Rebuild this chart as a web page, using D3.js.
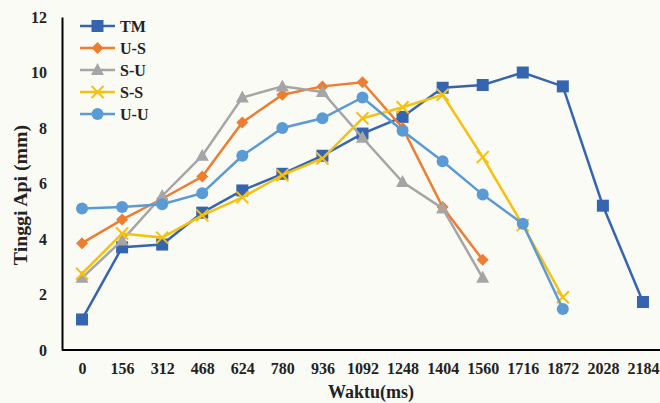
<!DOCTYPE html>
<html><head><meta charset="utf-8">
<script src="https://cdn.jsdelivr.net/npm/d3@7"></script>
<style>body{margin:0;background:#fbfbf6}svg{display:block}</style>
</head><body><svg id="c" width="660" height="403"></svg>
<script>
const categories = ["0","156","312","468","624","780","936","1092","1248","1404","1560","1716","1872","2028","2184"];
const yTicks = [0,2,4,6,8,10,12];
const seriesNames = ["TM","U-S","S-U","S-S","U-U"];
const TM  = [1.1,3.7,3.8,4.95,5.75,6.35,7.0,7.8,8.4,9.45,9.55,10.0,9.5,5.2,1.73];
const US  = [3.85,4.7,5.45,6.25,8.2,9.2,9.5,9.65,8.0,5.15,3.25];
const SU  = [2.6,3.95,5.55,7.0,9.1,9.5,9.3,7.65,6.05,5.1,2.6];
const SS  = [2.75,4.2,4.05,4.85,5.5,6.3,6.9,8.35,8.75,9.2,6.95,4.5,1.9];
const UU  = [5.1,5.15,5.25,5.65,7.0,8.0,8.35,9.1,7.9,6.8,5.6,4.55,1.48];
const seriesValues = [TM,US,SU,SS,UU];
const colors = ["#3565b0","#ed7d31","#a5a5a5","#f5c010","#5b9bd5"];
const markers = ["square","diamond","triangle","cross","circle"];

const svg = d3.select("#c");
const x = d3.scalePoint().domain(categories).range([62,663]).padding(0.5);
const y = d3.scaleLinear().domain([0,12]).range([350,17]);
const font = "'Liberation Serif','Times New Roman',serif";

// axes
const xAxis = svg.append("g").attr("transform","translate(0,350)")
  .call(d3.axisBottom(x).tickSize(0).tickPadding(13));
xAxis.select(".domain").attr("stroke","#000").attr("stroke-width",2).attr("d","M62,0H670");
xAxis.selectAll("text").attr("font-family",font).attr("font-weight","bold").attr("font-size",16).attr("fill","#222");

const yAxis = svg.append("g").attr("transform","translate(62,0)")
  .call(d3.axisLeft(y).tickValues(yTicks).tickSize(0).tickPadding(15));
yAxis.select(".domain").attr("stroke","#000").attr("stroke-width",2);
yAxis.selectAll("text").attr("font-family",font).attr("font-weight","bold").attr("font-size",16).attr("fill","#222");

svg.append("text").attr("x",371).attr("y",398).attr("text-anchor","middle")
  .attr("font-family",font).attr("font-weight","bold").attr("font-size",18).attr("fill","#222").text("Waktu(ms)");
svg.append("text").attr("transform","translate(27,195) rotate(-90) scale(1.1,1)").attr("text-anchor","middle")
  .attr("font-family",font).attr("font-weight","bold").attr("font-size",18).attr("fill","#222").text("Tinggi Api (mm)");

function drawMarker(g, type, cx, cy, color){
  if(type==="square") g.append("rect").attr("x",cx-6).attr("y",cy-6).attr("width",12).attr("height",12).attr("fill",color);
  else if(type==="diamond") g.append("path").attr("d",`M${cx},${cy-6}L${cx+6},${cy}L${cx},${cy+6}L${cx-6},${cy}Z`).attr("fill",color);
  else if(type==="triangle") g.append("path").attr("d",`M${cx},${cy-7}L${cx+6.5},${cy+5}L${cx-6.5},${cy+5}Z`).attr("fill",color);
  else if(type==="circle") g.append("circle").attr("cx",cx).attr("cy",cy).attr("r",6).attr("fill",color);
  else if(type==="cross") g.append("path").attr("d",`M${cx-6},${cy-6}L${cx+6},${cy+6}M${cx+6},${cy-6}L${cx-6},${cy+6}`).attr("stroke",color).attr("stroke-width",2);
}

const line = d3.line().x((d,i)=>x(categories[i])).y(d=>y(d));
seriesValues.forEach((vals,si)=>{
  const g = svg.append("g");
  g.append("path").datum(vals).attr("d",line).attr("fill","none").attr("stroke",colors[si]).attr("stroke-width",2.5);
  vals.forEach((v,i)=>drawMarker(g,markers[si],x(categories[i]),y(v),colors[si]));
});

// legend
const lg = svg.append("g");
seriesNames.forEach((n,i)=>{
  const ly = 26 + i*22;
  lg.append("line").attr("x1",80).attr("x2",115).attr("y1",ly).attr("y2",ly).attr("stroke",colors[i]).attr("stroke-width",2.5);
  drawMarker(lg,markers[i],97.5,ly,colors[i]);
  lg.append("text").attr("x",120).attr("y",ly+6).attr("font-family",font).attr("font-weight","bold").attr("font-size",16).attr("fill","#222").text(n);
});
</script></body></html>
